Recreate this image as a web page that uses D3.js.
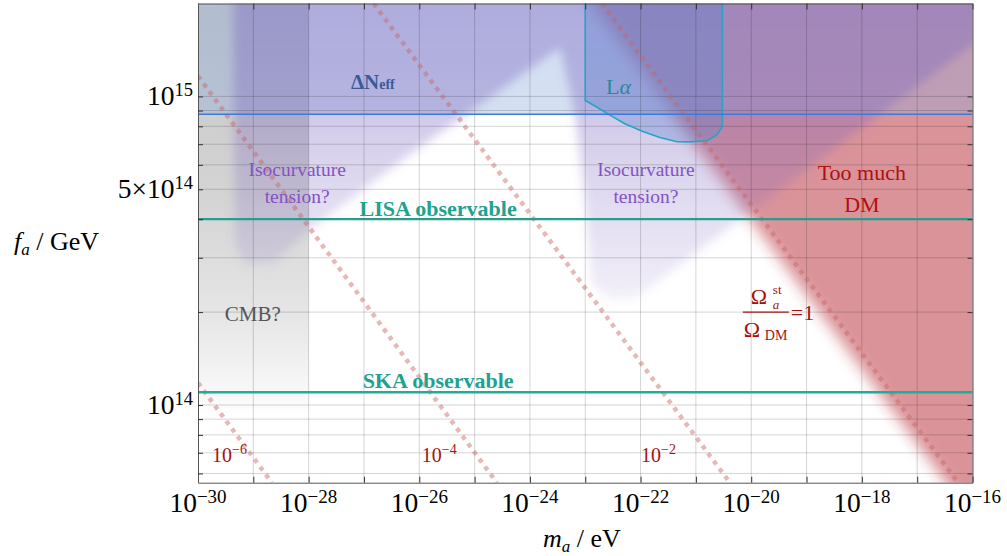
<!DOCTYPE html>
<html>
<head>
<meta charset="utf-8">
<script src="https://cdn.jsdelivr.net/npm/d3@7"></script>
<style>
  body { margin: 0; background: #fff; }
  svg { display: block; }
</style>
</head>
<body>
<div id="chart"></div>
<script>
// axes
const massDomain = [1e-30, 1e-16]
const faDomain = [5.6e13, 2e15]
const massTicks = [1e-30, 1e-29, 1e-28, 1e-27, 1e-26, 1e-25, 1e-24, 1e-23, 1e-22, 1e-21, 1e-20, 1e-19, 1e-18, 1e-17, 1e-16]
const massLabelValues = [1e-30, 1e-28, 1e-26, 1e-24, 1e-22, 1e-20, 1e-18, 1e-16]
const massLabelExps = ['−30', '−28', '−26', '−24', '−22', '−20', '−18', '−16']
const faTicks = [6e13, 7e13, 8e13, 9e13, 1e14, 2e14, 3e14, 4e14, 5e14, 6e14, 7e14, 8e14, 9e14, 1e15]
const faLabelValues = [1e15, 5e14, 1e14]
const faLabelMantissa = ['10', '5×10', '10']
const faLabelExps = ['15', '14', '14']

// horizontal bounds
const neffBound = 8.75e14
const lisaBound = 4e14
const skaBound = 1.1e14
const cmbRange = [1e-30, 1e-28]

// regions, [m_a (eV), f_a (GeV)]
const isoRegion = [[4.2e-30, 4e15], [1.64e-15, 4e15], [1.64e-15, 2.14e15], [8.6e-23, 2.24e14], [2.8e-23, 2.2e14],
  [1.33e-23, 2.45e14], [9.9e-24, 4.6e14], [6.5e-24, 8.8e14], [3.5e-24, 1.44e15], [6.8e-27, 6.5e14],
  [8.7e-29, 3.6e14], [2.5e-29, 2.9e14], [7.1e-30, 2.86e14], [4.6e-30, 3.3e14]]
const lymanRegion = [[1e-23, 4e15], [1e-23, 9.7e14], [1.5e-23, 9.31e14], [2.8e-23, 8.7e14], [5.2e-23, 8.15e14],
  [1.1e-22, 7.7e14], [2.24e-22, 7.36e14], [4.54e-22, 7.13e14], [7.8e-22, 7.12e14], [1.58e-21, 7.18e14],
  [2.4e-21, 7.5e14], [3e-21, 7.98e14], [3e-21, 4e15]]
const dmRegion = [[6.9e-25, 4e15], [1e-15, 4e15], [1e-15, 3e13], [4.4e-16, 3e13]]

// Omega_a^st / Omega_DM contours
const abundanceLines = [
  [[1e-30, 1.18e14], [2.17e-29, 5.6e13]],
  [[1e-30, 1.164e15], [2.52e-25, 5.6e13]],
  [[1.49e-27, 2e15], [4.12e-21, 5.6e13]],
  [[1.99e-23, 2e15], [5.48e-17, 5.6e13]]
]
const abundanceLabels = ['−6', '−4', '−2']

const width = 1007
const height = 556
const plot = { left: 198, right: 972.5, top: 3.5, bottom: 482.7 }

const x = d3.scaleLog().domain(massDomain).range([plot.left, plot.right])
const y = d3.scaleLog().domain(faDomain).range([plot.bottom, plot.top])
const area = d3.line().x((d) => x(d[0])).y((d) => y(d[1]))

const svg = d3.select('#chart')
    .append('svg')
    .attr('width', width)
    .attr('height', height)
    .attr('font-family', "'Liberation Serif', 'Times New Roman', serif")

const defs = svg.append('defs')
defs.append('clipPath').attr('id', 'plotClip')
    .append('rect')
    .attr('x', plot.left).attr('y', plot.top)
    .attr('width', plot.right - plot.left).attr('height', plot.bottom - plot.top)

const gradient = (id, color, stops) => {
    const g = defs.append('linearGradient').attr('id', id)
        .attr('gradientUnits', 'userSpaceOnUse')
        .attr('x1', 0).attr('x2', 0).attr('y1', plot.top).attr('y2', plot.bottom)
    stops.forEach(([o, a]) => g.append('stop').attr('offset', o).attr('stop-color', color).attr('stop-opacity', a))
}
gradient('cmbGrad', '#808080', [[0, 0.45], [0.4, 0.34], [0.65, 0.2], [0.83, 0.04], [0.86, 0]])
gradient('isoGrad', '#7c66c0', [[0, 0.42], [0.23, 0.36], [0.27, 0.32], [0.5, 0.18], [0.62, 0.1], [1, 0.08]])

const blur = (id, sd) => defs.append('filter').attr('id', id)
    .attr('x', '-20%').attr('y', '-20%').attr('width', '140%').attr('height', '140%')
    .append('feGaussianBlur').attr('stdDeviation', sd)
blur('blurIso', 5)
blur('blurDm', 7)

const layers = svg.append('g').attr('clip-path', 'url(#plotClip)')

layers.append('rect')
    .attr('x', x(cmbRange[0])).attr('y', plot.top)
    .attr('width', x(cmbRange[1]) - x(cmbRange[0]))
    .attr('height', plot.bottom - plot.top)
    .attr('fill', 'url(#cmbGrad)')

layers.append('path')
    .attr('d', area(dmRegion) + 'Z')
    .attr('fill', '#b8323a')
    .attr('fill-opacity', 0.52)
    .attr('filter', 'url(#blurDm)')

layers.append('rect')
    .attr('x', plot.left).attr('y', plot.top)
    .attr('width', plot.right - plot.left)
    .attr('height', y(neffBound) - plot.top)
    .attr('fill', '#94afdf')
    .attr('fill-opacity', 0.4)

layers.append('path')
    .attr('d', area(isoRegion) + 'Z')
    .attr('fill', 'url(#isoGrad)')
    .attr('filter', 'url(#blurIso)')

layers.append('path')
    .attr('d', area(lymanRegion) + 'Z')
    .attr('fill', '#5082d2')
    .attr('fill-opacity', 0.3)

// grid
layers.append('g')
    .selectAll('line')
    .data(massTicks)
    .enter()
    .append('line')
    .attr('x1', (d) => x(d)).attr('x2', (d) => x(d))
    .attr('y1', plot.top).attr('y2', plot.bottom)
    .attr('stroke', '#000').attr('stroke-opacity', 0.17)
layers.append('g')
    .selectAll('line')
    .data(faTicks)
    .enter()
    .append('line')
    .attr('y1', (d) => y(d)).attr('y2', (d) => y(d))
    .attr('x1', plot.left).attr('x2', plot.right)
    .attr('stroke', '#000').attr('stroke-opacity', 0.17)

layers.append('path')
    .attr('d', area(lymanRegion))
    .attr('fill', 'none')
    .attr('stroke', '#27a3c6')
    .attr('stroke-width', 1.6)

layers.selectAll('.abundance')
    .data(abundanceLines)
    .enter()
    .append('path')
    .attr('class', 'abundance')
    .attr('d', (d) => area(d))
    .attr('fill', 'none')
    .attr('stroke', '#c86464')
    .attr('stroke-opacity', 0.45)
    .attr('stroke-width', 4.5)
    .attr('stroke-dasharray', '4.5,5')

const hline = (v, color, w) => layers.append('line')
    .attr('x1', plot.left).attr('x2', plot.right)
    .attr('y1', y(v)).attr('y2', y(v))
    .attr('stroke', color).attr('stroke-width', w)
hline(neffBound, '#3c7ad6', 1.6)
hline(lisaBound, '#2a9c8e', 2.3)
hline(skaBound, '#1cae9c', 2.6)

// frame and ticks
const frame = (sel) => sel.call((g) => g.select('.domain').attr('stroke', '#555'))
    .call((g) => g.selectAll('.tick line').attr('stroke', '#333'))
svg.append('g').attr('transform', `translate(0, ${plot.bottom})`)
    .call(d3.axisBottom(x).tickValues(massTicks).tickSize(-6).tickSizeOuter(0).tickFormat(''))
    .call(frame)
svg.append('g').attr('transform', `translate(0, ${plot.top})`)
    .call(d3.axisTop(x).tickValues(massTicks).tickSize(-6).tickSizeOuter(0).tickFormat(''))
    .call(frame)
svg.append('g').attr('transform', `translate(${plot.left}, 0)`)
    .call(d3.axisLeft(y).tickValues(faTicks).tickSize(-5).tickSizeOuter(0).tickFormat(''))
    .call(frame)
svg.append('g').attr('transform', `translate(${plot.right}, 0)`)
    .call(d3.axisRight(y).tickValues(faTicks).tickSize(-5).tickSizeOuter(0).tickFormat(''))
    .call(frame)

// tick labels
const power = (sel, base, exp, size, supSize, shift) => {
    sel.append('tspan').attr('font-size', size).text(base)
    sel.append('tspan').attr('font-size', supSize).attr('dy', -shift).text(exp)
}
massLabelValues.forEach((v, i) => {
    svg.append('text')
        .attr('x', x(v)).attr('y', plot.bottom + 29)
        .attr('text-anchor', 'middle')
        .call(power, '10', massLabelExps[i], 27.5, 19, 9)
})
faLabelValues.forEach((v, i) => {
    svg.append('text')
        .attr('x', plot.left - 5).attr('y', y(v) + 8.6)
        .attr('text-anchor', 'end')
        .call(power, faLabelMantissa[i], faLabelExps[i], 27.5, 18.5, 9)
})

// axis titles
const yTitle = svg.append('text').attr('x', 14).attr('y', 250).attr('font-size', 26)
yTitle.append('tspan').attr('font-style', 'italic').text('f')
yTitle.append('tspan').attr('font-style', 'italic').attr('font-size', 17).attr('dy', 5).text('a')
yTitle.append('tspan').attr('dy', -5).text(' / GeV')
const xTitle = svg.append('text').attr('x', 543).attr('y', 547).attr('font-size', 26)
xTitle.append('tspan').attr('font-style', 'italic').text('m')
xTitle.append('tspan').attr('font-style', 'italic').attr('font-size', 17).attr('dy', 5).text('a')
xTitle.append('tspan').attr('dy', -5).text(' / eV')

// annotations
const note = (m, f, str, opts) => svg.append('text')
    .attr('x', x(m)).attr('y', y(f))
    .attr('text-anchor', opts.anchor || 'middle')
    .attr('font-size', opts.size)
    .attr('font-weight', opts.weight || 'normal')
    .attr('fill', opts.color)
    .text(str)

const neff = svg.append('text').attr('x', x(5.8e-28)).attr('y', y(1.06e15))
    .attr('fill', '#3b5a98').attr('font-weight', 'bold')
neff.append('tspan').attr('font-size', 21).text('ΔN')
neff.append('tspan').attr('font-size', 14).text('eff')

const lyman = svg.append('text').attr('x', x(2.37e-23)).attr('y', y(1.016e15))
    .attr('fill', '#2a8898').attr('font-size', 22)
lyman.append('tspan').text('L')
lyman.append('tspan').attr('font-style', 'italic').text('α')

const isoColor = '#8452c2'
note(6.2e-29, 5.53e14, 'Isocurvature', { size: 19.5, color: isoColor })
note(6.2e-29, 4.52e14, 'tension?', { size: 19.5, color: isoColor })
note(1.25e-22, 5.53e14, 'Isocurvature', { size: 19.5, color: isoColor })
note(1.25e-22, 4.52e14, 'tension?', { size: 19.5, color: isoColor })
note(2.19e-26, 4.1e14, 'LISA observable', { size: 22, weight: 'bold', color: '#1fa290' })
note(2.19e-26, 1.135e14, 'SKA observable', { size: 22, weight: 'bold', color: '#1fa290' })
note(9.77e-30, 1.875e14, 'CMB?', { size: 21, color: '#555' })
note(1e-18, 5.36e14, 'Too much', { size: 22, color: '#b01010' })
note(1e-18, 4.22e14, 'DM', { size: 22, color: '#b01010' })

// Omega_a^st / Omega_DM = 1
const darkRed = '#a31212'
const fx = x(1.84e-20)
const fy = y(2e14)
const omega = svg.append('g').attr('fill', darkRed)
omega.append('text').attr('x', fx - 15).attr('y', fy - 8).attr('font-size', 22).text('Ω')
omega.append('text').attr('x', fx + 7).attr('y', fy - 3.5).attr('font-size', 13).attr('font-style', 'italic').text('a')
omega.append('text').attr('x', fx + 7).attr('y', fy - 18.5).attr('font-size', 13).text('st')
omega.append('line').attr('x1', fx - 23).attr('x2', fx + 23).attr('y1', fy).attr('y2', fy)
    .attr('stroke', darkRed).attr('stroke-width', 1.3)
omega.append('text').attr('x', fx - 22).attr('y', fy + 25).attr('font-size', 22).text('Ω')
omega.append('text').attr('x', fx - 1).attr('y', fy + 28).attr('font-size', 14).text('DM')
omega.append('text').attr('x', fx + 25).attr('y', fy + 8).attr('font-size', 22).text('=1')

const abundanceAnchors = [1.79e-30, 1.11e-26, 1.02e-22]
abundanceLabels.forEach((lab, i) => {
    svg.append('text')
        .attr('x', x(abundanceAnchors[i])).attr('y', y(6.53e13))
        .attr('fill', darkRed)
        .call(power, '10', lab, 20, 14, 8)
})
</script>
</body>
</html>
